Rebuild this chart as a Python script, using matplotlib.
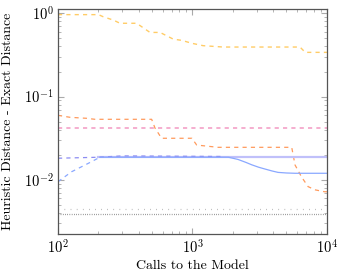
import numpy as np
import matplotlib
matplotlib.use('Agg')
import matplotlib.pyplot as plt

plt.rcParams['font.family'] = ['cmr10', 'DejaVu Serif']
plt.rcParams['mathtext.fontset'] = 'cm'
plt.rcParams['axes.formatter.use_mathtext'] = True
plt.rcParams['lines.scale_dashes'] = False

# data
x_yellow = [100, 200, 217, 258, 289, 384, 431, 483, 574, 720, 831, 990, 1200, 1690, 6300, 6900, 10000]
y_yellow = [0.965, 0.965, 0.91, 0.83, 0.76, 0.76, 0.67, 0.59, 0.59, 0.49, 0.474, 0.437, 0.409, 0.394, 0.394, 0.34, 0.34]

x_orange = [100, 123, 163, 188, 497, 526, 589, 990, 1075, 1550, 5470, 5790, 6460, 7240, 8130, 9600, 10000]
y_orange = [0.0596, 0.0564, 0.0549, 0.0534, 0.0534, 0.042, 0.0316, 0.0316, 0.0262, 0.0246, 0.0246,
            0.0151, 0.0109, 0.0083, 0.0076, 0.0072, 0.0072]

x_pink = [100, 10000]
y_pink = [0.042, 0.042]

x_purple = [100, 200, 300, 1700]
y_purple = [0.0182, 0.0187, 0.0194, 0.0191]

x_blue_start = [100, 126, 168, 205]
y_blue_start = [0.0095, 0.0125, 0.0158, 0.0187]
x_blue = [205, 1850, 2180, 2500, 2750, 3100, 3460, 3900, 4330, 5000, 5790, 10000]
y_blue = [0.0187, 0.0187, 0.0176, 0.0162, 0.0152, 0.0142, 0.0135, 0.0128, 0.0123, 0.0121, 0.012, 0.012]

x_lav = [200, 10000]
y_lav = [0.0186, 0.0186]

x_ref = [100, 10000]
y_ref_loose = [0.00444, 0.00444]
y_ref_dense = [0.00386, 0.00386]

fig = plt.figure(figsize=(3.42, 2.75), dpi=100)
ax = fig.add_axes([0.1696, 0.148, 0.956 - 0.1696, 0.966 - 0.148])

dash = (0, (3, 3))
ax.plot(x_yellow, y_yellow, color='#ffcc66', lw=1.0, ls=dash)
ax.plot(x_orange, y_orange, color='#ff9a5c', lw=0.9, ls=dash)
ax.plot(x_pink, y_pink, color='#f4a8cc', lw=1.3, ls=dash)
ax.plot(x_lav, y_lav, color='#c0c0fa', lw=1.6)
ax.plot(x_purple, y_purple, color='#8c8cf2', lw=0.9, ls=dash)
ax.plot(x_blue_start, y_blue_start, color='#8aa8ff', lw=0.9, ls=dash)
ax.plot(x_blue, y_blue, color='#8aa8ff', lw=0.9)
ax.plot(x_ref, y_ref_loose, color='#909090', lw=0.9, ls=(0, (0.4, 4)))
ax.plot(x_ref, y_ref_dense, color='#505050', lw=0.9, ls=(0, (0.4, 1.2)))

ax.set_xscale('log')
ax.set_yscale('log')
ax.set_xlim(100, 10000)
ax.set_ylim(0.00222, 1.117)

for s in ax.spines.values():
    s.set_color('#555555')
    s.set_linewidth(0.9)
ax.tick_params(which='both', direction='in', top=True, right=True, color='#aaaaaa')
ax.tick_params(which='major', length=4, labelsize=10.5, pad=3)
ax.tick_params(which='minor', length=2.5)

ax.set_xlabel('Calls to the Model', fontsize=10)
ax.set_ylabel('Heuristic Distance - Exact Distance', fontsize=10)
ax.xaxis.set_label_coords(0.5, -0.115)
ax.yaxis.set_label_coords(-0.165, 0.5)

fig.savefig('out.png', dpi=100)
